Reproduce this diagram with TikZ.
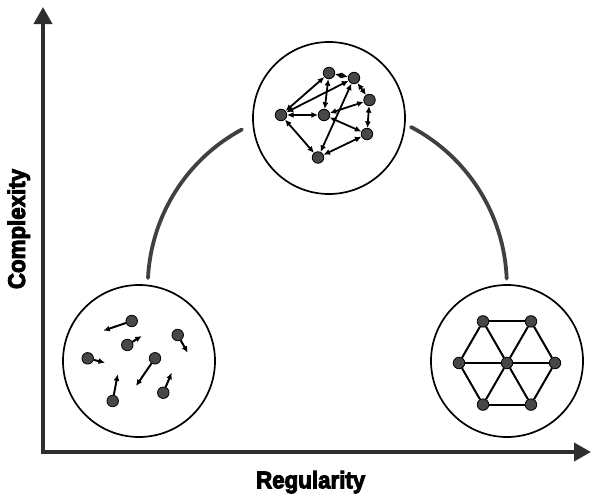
\documentclass[tikz,border=0pt]{standalone}
\usepackage{fontspec}
\setmainfont{Liberation Sans}
\newfontfamily\heavyfont{Liberation Sans}[BoldFeatures={FakeBold=4}]
\usetikzlibrary{arrows.meta}
\begin{document}
\begin{tikzpicture}[x=1pt,y=-1pt,
  axis/.style={line width=3.8pt, draw=black!82, line join=miter,
    arrows={Triangle[length=17pt,width=18pt]-Triangle[length=17pt,width=18pt]}},
  bigcirc/.style={circle, draw=black, line width=1.7pt, minimum size=152pt, inner sep=0pt},
  dot/.style={circle, draw=black, fill=black!72, line width=0.8pt, minimum size=11.5pt, inner sep=0pt},
  link/.style={line width=1.8pt, arrows={Latex[length=6.5pt,width=6pt]-Latex[length=6.5pt,width=6pt]}},
  move/.style={line width=2pt, -{Latex[length=6.5pt,width=6pt]}},
  bond/.style={line width=2pt},
  bridge/.style={line width=3.8pt, draw=black!75, line cap=round},
  lab/.style={font=\heavyfont\bfseries\fontsize{22.3}{24}\selectfont, inner sep=0pt, anchor=base}
]
\useasboundingbox (0,0) rectangle (592,498);

% axes
\coordinate (O) at (43,452);
\coordinate (ytip) at (43,7);
\coordinate (xtip) at (591,452);
\draw[axis] (ytip) -- (O) -- (xtip);
\node[lab, xscale=1.0, yscale=1.08] (xlab) at (310.7,488.3) {Regularity};
\node[lab, rotate=90, xscale=1.0, yscale=1.08] (ylab) at (25,229) {Complexity};

% big circles
\node[bigcirc] (ctop) at (329,118) {};
\node[bigcirc] (cleft) at (139,361) {};
\node[bigcirc] (cright) at (507,361) {};

% bridging arcs
\coordinate (L1) at (148,278);
\coordinate (R1) at (411,127);
\draw[bridge] (L1) arc[start angle=-177.1, end angle=-118.3, radius=179];
\draw[bridge] (R1) arc[start angle=-62.3, end angle=-2.2, radius=179];

% top: complex network
\node[dot] (A) at (329,73) {};
\node[dot] (B) at (354,78) {};
\node[dot] (C) at (369.5,100) {};
\node[dot] (D) at (281,115) {};
\node[dot] (E) at (324,115) {};
\node[dot] (F) at (367,134) {};
\node[dot] (G) at (318,157.5) {};
\draw[link] (D) -- (A);
\draw[link] (D) -- (B);
\draw[link] (A) -- (E);
\draw[link] (D) -- (E);
\draw[link] (D) -- (G);
\draw[link] (B) -- (G);
\draw[link] (E) -- (C);
\draw[link] (E) -- (F);
\draw[link] (C) -- (F);
\draw[link] (G) -- (F);
\draw[link] (A) -- (B);
\draw[link] (B) -- (C);

% left: random particles
\node[dot] (p1) at (131.7,321) {};
\node[dot] (p2) at (127.3,345) {};
\node[dot] (p3) at (177.7,335) {};
\node[dot] (p4) at (87.7,358.3) {};
\node[dot] (p5) at (155,358.3) {};
\node[dot] (p6) at (112.7,401) {};
\node[dot] (p7) at (163.3,392.7) {};
\coordinate (q1) at (103.3,330.7);
\coordinate (q2) at (141.7,336);
\coordinate (q3) at (187.7,352.7);
\coordinate (q4) at (105,362.7);
\coordinate (q5) at (136,386);
\coordinate (q6) at (117.7,374.3);
\coordinate (q7) at (171.7,372.7);
\foreach \i in {1,...,7} { \draw[move] (p\i) -- (q\i); }

% right: regular lattice
\node[dot] (h0) at (507,363) {};
\node[dot] (h1) at (555,363) {};
\node[dot] (h2) at (531,321.4) {};
\node[dot] (h3) at (483,321.4) {};
\node[dot] (h4) at (459,363) {};
\node[dot] (h5) at (483,404.6) {};
\node[dot] (h6) at (531,404.6) {};
\draw[bond] (h1) -- (h2);
\draw[bond] (h2) -- (h3);
\draw[bond] (h3) -- (h4);
\draw[bond] (h4) -- (h5);
\draw[bond] (h5) -- (h6);
\draw[bond] (h6) -- (h1);
\draw[bond] (h1) -- (h0) -- (h4);
\draw[bond] (h2) -- (h0) -- (h5);
\draw[bond] (h3) -- (h0) -- (h6);
\end{tikzpicture}
\end{document}
